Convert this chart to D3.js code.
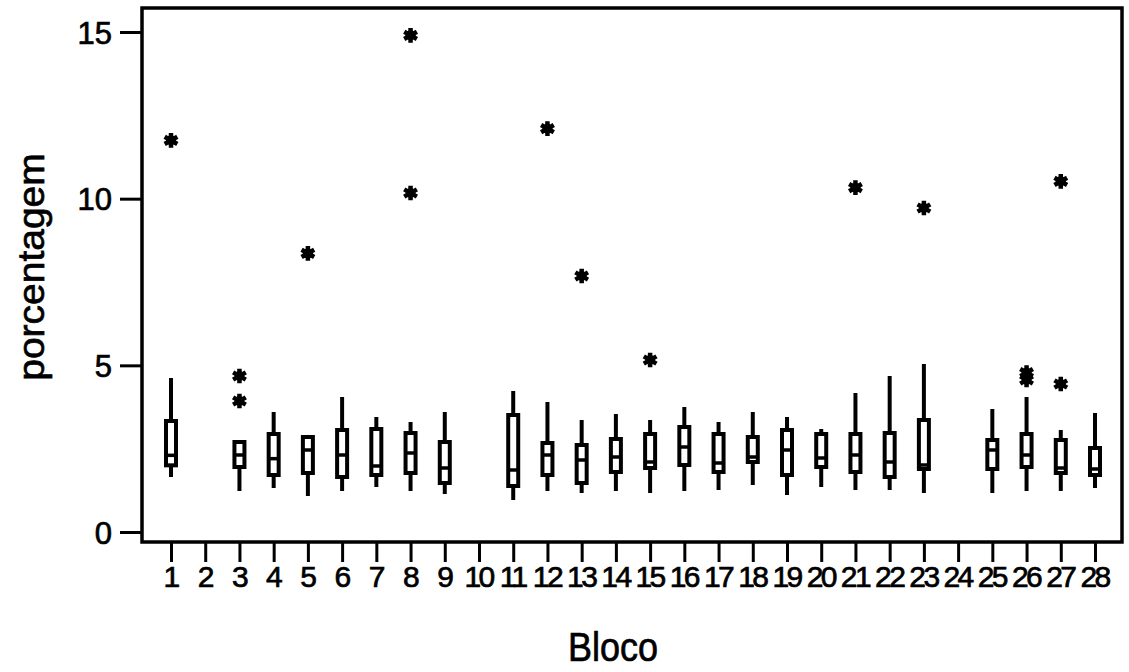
<!DOCTYPE html>
<html>
<head>
<meta charset="utf-8">
<script src="https://cdn.jsdelivr.net/npm/d3@7"></script>
<style>
  html, body { margin: 0; padding: 0; background: #fff; }
  svg text { font-family: "Liberation Sans", Arial, sans-serif; fill: #000; stroke: #000; stroke-width: 0.7px; }
</style>
</head>
<body>
<svg id="chart" width="1129" height="672"></svg>
<script>
// Block numbers on the x axis
const blocks = d3.range(1, 29);

// Five-number summaries per block (null = no data for that block)
const whiskerLow  = [1.65, null, 1.23, 1.32, 1.08, 1.23, 1.35, 1.23, 1.14, null, 0.96, 1.23, 1.17, 1.23, 1.17, 1.23, 1.26, 1.41, 1.11, 1.35, 1.26, 1.26, 1.17, null, 1.17, 1.23, 1.23, 1.32];
const quart1      = [2.00, null, 1.95, 1.71, 1.77, 1.65, 1.71, 1.77, 1.47, null, 1.38, 1.71, 1.47, 1.80, 1.92, 2.01, 1.80, 2.10, 1.71, 1.95, 1.80, 1.65, 1.89, null, 1.89, 1.95, 1.77, 1.71];
const medians     = [2.30, null, 2.31, 2.20, 2.46, 2.31, 1.98, 2.37, 1.92, null, 1.86, 2.31, 2.16, 2.25, 2.10, 2.55, 2.07, 2.25, 2.46, 2.22, 2.31, 2.10, 2.01, null, 2.46, 2.31, 1.92, 1.89];
const quart3      = [3.33, null, 2.70, 2.94, 2.85, 3.06, 3.09, 2.97, 2.70, null, 3.51, 2.67, 2.61, 2.79, 2.94, 3.15, 2.94, 2.85, 3.06, 2.94, 2.94, 2.97, 3.36, null, 2.76, 2.94, 2.76, 2.52];
const whiskerHigh = [4.62, null, 2.70, 3.60, 2.90, 4.05, 3.45, 3.30, 3.60, null, 4.23, 3.90, 3.36, 3.54, 3.36, 3.75, 3.30, 3.60, 3.45, 3.09, 4.17, 4.68, 5.04, null, 3.69, 4.05, 3.06, 3.57];

// Outlying observations: block and value
const outlierBlocks = [1, 3, 3, 5, 8, 8, 12, 13, 15, 21, 23, 26, 26, 27, 27];
const outlierValues = [11.75, 4.68, 3.93, 8.36, 14.9, 10.17, 12.1, 7.68, 5.16, 10.33, 9.72, 4.78, 4.56, 10.52, 4.44];

const yTicks = [0, 5, 10, 15];

const svg = d3.select("#chart");
const frame = { left: 142, right: 1122, top: 8, bottom: 542 };

const x = d3.scalePoint().domain(blocks).range([171, 1095]);
const y = d3.scaleLinear().domain([-0.3, 15.72]).range([frame.bottom, frame.top]);

// Y axis
const yAxis = svg.append("g")
  .attr("transform", `translate(${frame.left},0)`)
  .call(d3.axisLeft(y).tickValues(yTicks).tickSize(22).tickPadding(8));
yAxis.select(".domain").remove();
yAxis.selectAll(".tick line").attr("stroke", "#000").attr("stroke-width", 3);
yAxis.selectAll(".tick text").style("font-size", "31px").attr("dy", "0.36em");

// X axis
const xAxis = svg.append("g")
  .attr("transform", `translate(0,${frame.bottom})`)
  .call(d3.axisBottom(x).tickSize(20).tickPadding(4));
xAxis.select(".domain").remove();
xAxis.selectAll(".tick line").attr("stroke", "#000").attr("stroke-width", 3);
xAxis.selectAll(".tick text")
  .style("font-size", "30px")
  .attr("letter-spacing", "-2.6px")
  .attr("dx", "-1px");

// Plot frame
svg.append("rect")
  .attr("x", frame.left).attr("y", frame.top)
  .attr("width", frame.right - frame.left)
  .attr("height", frame.bottom - frame.top)
  .attr("fill", "none").attr("stroke", "#000").attr("stroke-width", 3.5);

// Box plots
const stats = blocks.map((b, i) => ({
  block: b, lo: whiskerLow[i], q1: quart1[i], med: medians[i], q3: quart3[i], hi: whiskerHigh[i]
})).filter(d => d.med !== null);

const boxW = 10;
const g = svg.append("g");
const box = g.selectAll("g.box").data(stats).join("g").attr("class", "box");

box.append("line")
  .attr("x1", d => x(d.block)).attr("x2", d => x(d.block))
  .attr("y1", d => y(d.hi)).attr("y2", d => y(d.q3))
  .attr("stroke", "#000").attr("stroke-width", 4);
box.append("line")
  .attr("x1", d => x(d.block)).attr("x2", d => x(d.block))
  .attr("y1", d => y(d.q1)).attr("y2", d => y(d.lo))
  .attr("stroke", "#000").attr("stroke-width", 4);
box.append("rect")
  .attr("x", d => x(d.block) - boxW / 2)
  .attr("y", d => y(d.q3))
  .attr("width", boxW)
  .attr("height", d => y(d.q1) - y(d.q3))
  .attr("fill", "#fff").attr("stroke", "#000").attr("stroke-width", 4);
box.append("line")
  .attr("x1", d => x(d.block) - boxW / 2).attr("x2", d => x(d.block) + boxW / 2)
  .attr("y1", d => y(d.med)).attr("y2", d => y(d.med))
  .attr("stroke", "#000").attr("stroke-width", 3.5);

// Outlier asterisks
const outliers = outlierBlocks.map((b, i) => ({ block: b, value: outlierValues[i] }));
const star = d3.symbol().type(d3.symbolAsterisk).size(150);
g.selectAll("path.outlier")
  .data(outliers)
  .join("path")
  .attr("class", "outlier")
  .attr("transform", d => `translate(${x(d.block)},${y(d.value)})`)
  .attr("d", star)
  .attr("fill", "none").attr("stroke", "#000").attr("stroke-width", 4.5);
g.selectAll("circle.outlier-core")
  .data(outliers)
  .join("circle")
  .attr("class", "outlier-core")
  .attr("cx", d => x(d.block)).attr("cy", d => y(d.value))
  .attr("r", 5).attr("fill", "#000");

// Axis titles
svg.append("text")
  .attr("x", 613).attr("y", 661)
  .attr("text-anchor", "middle")
  .style("font-size", "40px")
  .attr("transform", "translate(613,0) scale(0.9,1) translate(-613,0)")
  .text("Bloco");

svg.append("text")
  .attr("transform", "translate(44,267) rotate(-90) scale(1,0.94)")
  .attr("text-anchor", "middle")
  .style("font-size", "39px")
  .text("porcentagem");
</script>
</body>
</html>
